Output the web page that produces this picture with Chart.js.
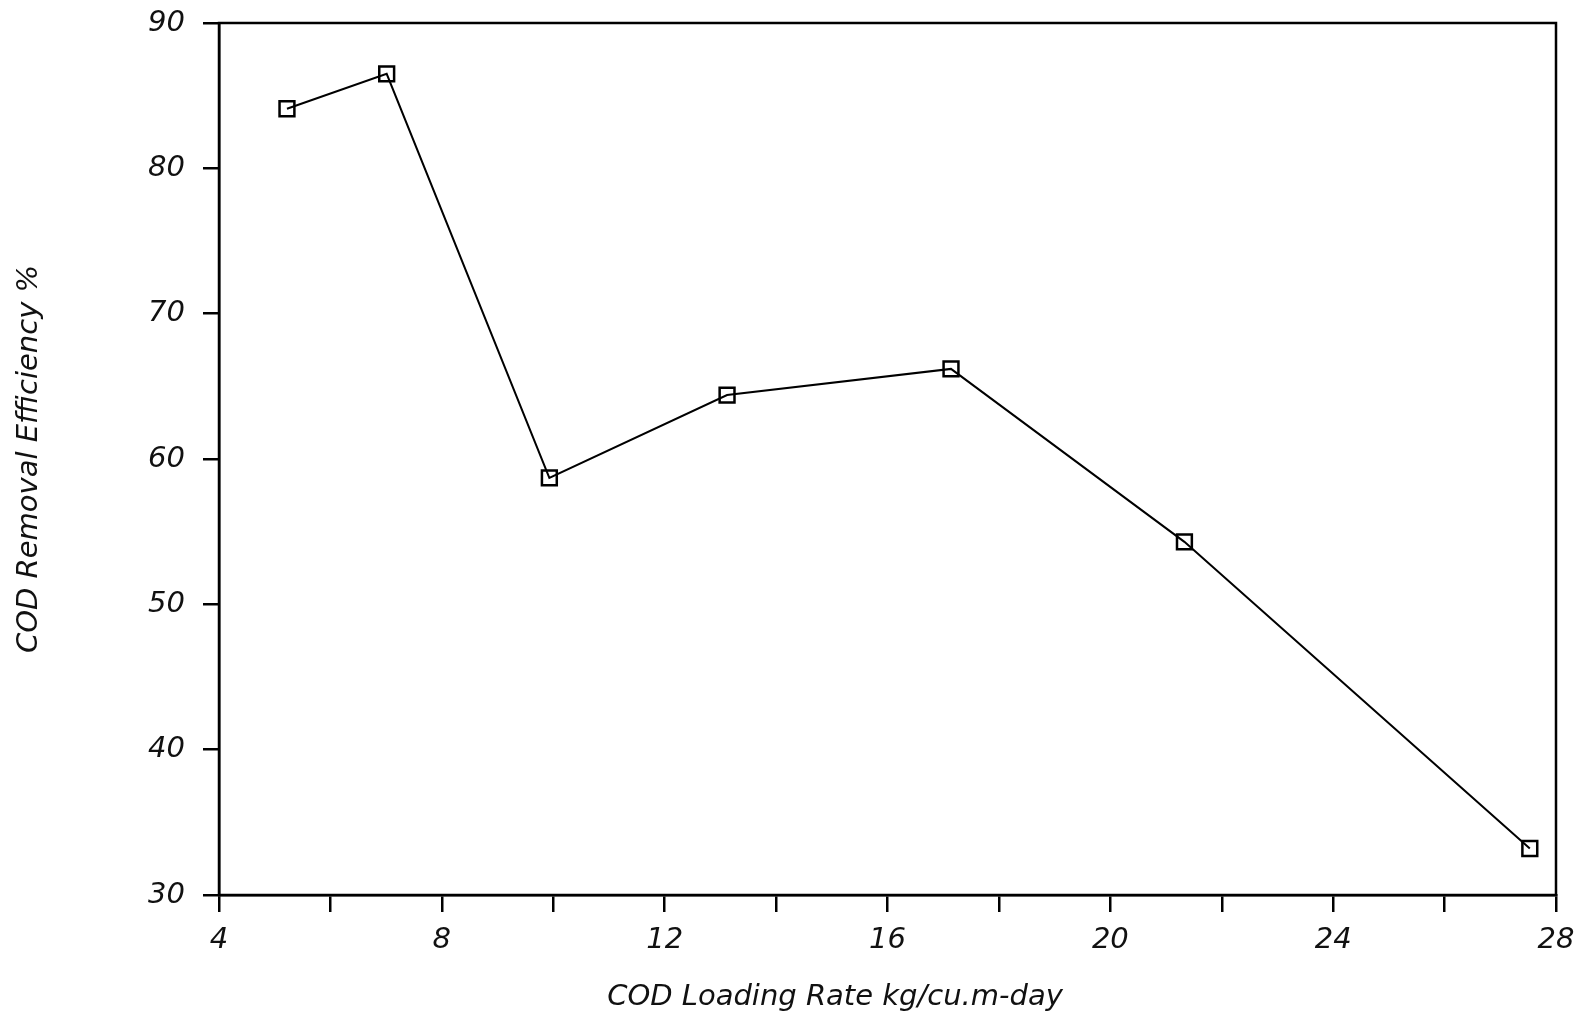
<!DOCTYPE html>
<html>
<head>
<meta charset="utf-8">
<script src="https://cdn.jsdelivr.net/npm/chart.js@4/dist/chart.umd.min.js"></script>
<style>
  html, body { margin: 0; padding: 0; background: #fff; }
  #wrap { width: 1590px; height: 1018px; }
</style>
</head>
<body>
<div id="wrap"><canvas id="lineChart"></canvas></div>
<script>
// values
var loadingRate = [5.22, 7.01, 9.93, 13.12, 17.14, 21.33, 27.53];
var removalEff  = [84.1, 86.5, 58.7, 64.4, 66.2, 54.3, 33.2];
var xTickLabels = [4, 8, 12, 16, 20, 24, 28];
var yTickLabels = [30, 40, 50, 60, 70, 80, 90];

var FONT = '"DejaVu Sans", sans-serif';

// frame around the plot plus the two axis titles
var framePlugin = {
  id: 'frame',
  afterDraw: function (chart) {
    var ctx = chart.ctx, a = chart.chartArea;
    ctx.save();
    ctx.strokeStyle = '#000';
    ctx.lineWidth = 2.5;
    ctx.strokeRect(a.left, a.top, a.right - a.left, a.bottom - a.top);

    ctx.fillStyle = '#111';
    ctx.font = 'italic 29px ' + FONT;
    ctx.textAlign = 'center';
    ctx.textBaseline = 'middle';
    ctx.fillText('COD Loading Rate kg/cu.m-day', 835, 997);

    ctx.translate(29, (a.top + a.bottom) / 2);
    ctx.rotate(-Math.PI / 2);
    ctx.fillText('COD Removal Efficiency %', 0, 0);
    ctx.restore();
  }
};

var ctxL = document.getElementById('lineChart').getContext('2d');
var myLineChart = new Chart(ctxL, {
  type: 'line',
  data: {
    datasets: [{
      label: 'COD removal',
      data: loadingRate.map(function (x, i) { return { x: x, y: removalEff[i] }; }),
      borderColor: '#000',
      borderWidth: 2,
      backgroundColor: 'rgba(0,0,0,0)',
      pointStyle: 'rect',
      pointRadius: 10.5,
      pointBorderWidth: 2.5,
      pointBorderColor: '#000',
      pointBackgroundColor: 'rgba(0,0,0,0)',
      tension: 0
    }]
  },
  options: {
    responsive: true,
    maintainAspectRatio: false,
    animation: false,
    layout: { padding: { top: 23, right: 34, left: 0, bottom: 0 } },
    plugins: {
      legend: { display: false },
      tooltip: { enabled: false }
    },
    scales: {
      x: {
        type: 'linear',
        min: xTickLabels[0],
        max: xTickLabels[xTickLabels.length - 1],
        afterFit: function (s) { s.height = 123; s.paddingLeft = 0; s.paddingRight = 0; },
        border: { display: true, color: '#000', width: 2.5 },
        grid: { drawOnChartArea: false, drawTicks: true, tickLength: 17, color: '#000', lineWidth: 2.5 },
        ticks: {
          stepSize: 2,
          autoSkip: false,
          maxRotation: 0,
          padding: 11,
          color: '#111',
          font: { family: FONT, size: 29, style: 'italic' },
          callback: function (v) { return xTickLabels.indexOf(v) >= 0 ? String(v) : ''; }
        },
        title: { display: false }
      },
      y: {
        type: 'linear',
        min: yTickLabels[0],
        max: yTickLabels[yTickLabels.length - 1],
        afterFit: function (s) { s.width = 219; s.paddingTop = 0; s.paddingBottom = 0; },
        border: { display: true, color: '#000', width: 2.5 },
        grid: { drawOnChartArea: false, drawTicks: true, tickLength: 16, color: '#000', lineWidth: 2.5 },
        ticks: {
          stepSize: 10,
          padding: 18,
          color: '#111',
          font: { family: FONT, size: 29, style: 'italic' }
        },
        title: { display: false }
      }
    }
  },
  plugins: [framePlugin]
});
</script>
</body>
</html>
